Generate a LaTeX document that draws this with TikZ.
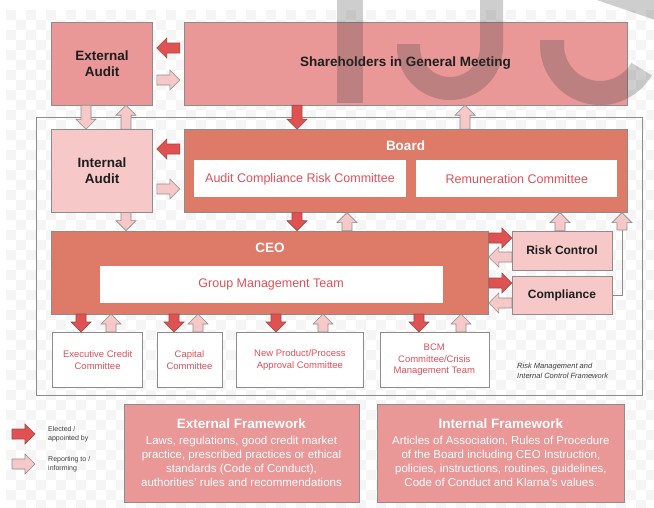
\documentclass[tikz,border=0pt]{standalone}
\usepackage{fontspec}
\setmainfont{Liberation Sans}
\usetikzlibrary{positioning,calc}
\definecolor{ShellPink}{HTML}{E99797}
\definecolor{PalePink}{HTML}{F6C9C8}
\definecolor{Terra}{HTML}{DE7B68}
\definecolor{ArrowRed}{HTML}{E05252}
\definecolor{ArrowEdge}{HTML}{9E4646}
\definecolor{TextRed}{HTML}{E0505A}
\definecolor{LineGray}{HTML}{8C8C8C}
\definecolor{CheckGray}{HTML}{F5F5F5}
\definecolor{InkGray}{HTML}{3C3C3C}
\definecolor{InkBlack}{HTML}{1E1E1E}
\definecolor{WaterGray}{HTML}{3C3C3C}

% block arrow from #2 to #3, drawn with style #1
\newcommand{\fatarrow}[3]{%
  \path (#2) coordinate (fa-s) (#3) coordinate (fa-e);
  \path ($(fa-e)!10pt!(fa-s)$) coordinate (fa-n);
  \draw[#1] ($(fa-s)!5pt!90:(fa-e)$) -- ($(fa-n)!5pt!-90:(fa-s)$)
    -- ($(fa-n)!10pt!-90:(fa-s)$) -- (fa-e) -- ($(fa-n)!10pt!90:(fa-s)$)
    -- ($(fa-n)!5pt!90:(fa-s)$) -- ($(fa-s)!5pt!-90:(fa-e)$) -- cycle;
}

\tikzset{
  pinkbox/.style={draw=LineGray,fill=ShellPink,inner sep=0pt,align=center,
                  font=\fontsize{13.5}{16}\selectfont\bfseries,text=InkBlack},
  palebox/.style={pinkbox,fill=PalePink},
  termbox/.style={draw=LineGray,fill=Terra,inner sep=0pt,minimum height=83pt},
  headtext/.style={font=\fontsize{13.5}{16}\selectfont\bfseries,text=white,inner sep=0pt},
  cmtbox/.style={fill=white,inner sep=0pt,minimum height=37pt,align=center,
                 font=\fontsize{12.5}{15}\selectfont,text=TextRed},
  subbox/.style={draw=LineGray,fill=white,inner sep=0pt,minimum height=55pt,align=center,
                 font=\fontsize{9.5}{11.8}\selectfont,text=TextRed},
  fwbox/.style={draw=LineGray,fill=ShellPink,inner sep=0pt,minimum height=98pt,align=center,
                font=\fontsize{11.5}{14.3}\selectfont,text=white},
  rmframe/.style={draw=LineGray,line width=0.8pt,inner sep=0pt},
  elect/.style={fill=ArrowRed,draw=ArrowEdge,line width=0.6pt},
  inform/.style={fill=PalePink,draw=LineGray,line width=0.6pt},
  link/.style={draw=LineGray,line width=0.8pt},
  note/.style={font=\fontsize{7.5}{10.5}\selectfont\itshape,align=left,text=InkGray,inner sep=0pt},
  keytext/.style={font=\fontsize{7}{9}\selectfont,align=left,text=InkGray,inner sep=0pt},
  wmark/.style={draw=WaterGray,draw opacity=0.25,line width=24pt}
}

\begin{document}
\begin{tikzpicture}[x=1pt,y=-1pt]
  \useasboundingbox (0,0) rectangle (654,507);
  % light checker behind everything
  \foreach \cx in {6,26,...,646}
    \foreach \cy in {10,30,...,490}
      {\fill[CheckGray] (\cx,\cy) rectangle ++(10,10);
       \fill[CheckGray] (\cx+10,\cy+10) rectangle ++(10,10);}

  \node[rmframe,minimum width=606pt,minimum height=278pt] (rmic) at (339,256) {};

  % governing bodies
  \node[pinkbox,minimum width=443pt,minimum height=83pt] (share) at (405.5,63.5) {Shareholders in General Meeting};
  \node[pinkbox,minimum width=101pt,minimum height=83pt,left=31pt of share] (extaudit) {External\\Audit};
  \node[palebox,minimum width=101pt,minimum height=83pt,below=24pt of extaudit] (intaudit) {Internal\\Audit};
  \node[termbox,minimum width=443pt,below=24pt of share] (board) {};
  \node[headtext] (boardtitle) at ($(board.north)+(0,16)$) {Board};
  \node[cmtbox,minimum width=212pt,anchor=north west] (acr) at ($(board.north west)+(10,31)$) {Audit Compliance Risk Committee};
  \node[cmtbox,minimum width=201pt,right=10pt of acr] (remu) {Remuneration Committee};

  \node[termbox,minimum width=437pt,anchor=north west] (ceo) at ($(intaudit.south west)+(0,18)$) {};
  \node[headtext] (ceotitle) at ($(ceo.north)+(0,17)$) {CEO};
  \node[cmtbox,minimum width=343pt,anchor=north west] (gmt) at ($(ceo.north west)+(48,35)$) {Group Management Team};

  \node[palebox,font=\fontsize{12}{14}\selectfont\bfseries,minimum width=100pt,minimum height=39pt,
        anchor=north west] (risk) at ($(ceo.north east)+(23,0)$) {Risk Control};
  \node[palebox,font=\fontsize{12}{14}\selectfont\bfseries,minimum width=100pt,minimum height=38pt,
        below=6pt of risk] (compl) {Compliance};

  % committees under the CEO
  \node[subbox,minimum width=90pt,anchor=north west] (exec) at ($(ceo.south west)+(1,18)$) {Executive Credit\\Committee};
  \node[subbox,minimum width=65pt,right=14pt of exec] (capital) {Capital\\Committee};
  \node[subbox,minimum width=127pt,right=14pt of capital] (newprod) {New Product/Process\\Approval Committee};
  \node[subbox,minimum width=109pt,right=16pt of newprod] (bcm) {BCM\\Committee/Crisis\\Management Team};

  \node[note,anchor=west] (rmiclbl) at (517,371) {Risk Management and\\Internal Control Framework};

  % frameworks
  \node[fwbox,minimum width=235pt] (extfw) at (241.5,453)
    {{\fontsize{13.5}{15}\selectfont\bfseries External Framework}\\[1pt]
     Laws, regulations, good credit market\\practice, prescribed practices or ethical\\
     standards (Code of Conduct),\\authorities' rules and recommendations};
  \node[fwbox,minimum width=247pt,right=18pt of extfw] (intfw)
    {{\fontsize{13.5}{15}\selectfont\bfseries Internal Framework}\\[1pt]
     Articles of Association, Rules of Procedure\\of the Board including CEO Instruction,\\
     policies, instructions, routines, guidelines,\\Code of Conduct and Klarna's values.};

  % legend
  \coordinate (keyA) at (12,434);
  \coordinate (keyB) at (12,464);
  \fatarrow{elect}{keyA}{$(keyA)+(23,0)$}
  \fatarrow{inform}{keyB}{$(keyB)+(23,0)$}
  \node[keytext,anchor=west] (keyAtxt) at (48,434) {Elected /\\appointed by};
  \node[keytext,anchor=west] (keyBtxt) at (48,464) {Reporting to /\\informing};

  % arrows between the boxes
  \fatarrow{elect}{$(share.west |- 0,48)+(-4,0)$}{$(extaudit.east |- 0,48)+(4,0)$}
  \fatarrow{inform}{$(extaudit.east |- 0,80)+(4,0)$}{$(share.west |- 0,80)+(-4,0)$}
  \fatarrow{inform}{extaudit.south -| 86,0}{intaudit.north -| 86,0}
  \fatarrow{inform}{intaudit.north -| 126,0}{extaudit.south -| 126,0}
  \fatarrow{elect}{share.south -| 297,0}{board.north -| 297,0}
  \fatarrow{inform}{board.north -| 465,0}{share.south -| 465,0}
  \fatarrow{elect}{$(board.west |- 0,149)+(-4,0)$}{$(intaudit.east |- 0,149)+(4,0)$}
  \fatarrow{inform}{$(intaudit.east |- 0,189)+(4,0)$}{$(board.west |- 0,189)+(-4,0)$}
  \fatarrow{inform}{intaudit.south -| 126,0}{ceo.north -| 126,0}
  \fatarrow{elect}{board.south -| 297,0}{ceo.north -| 297,0}
  \fatarrow{inform}{ceo.north -| 347,0}{board.south -| 347,0}
  \fatarrow{inform}{risk.north -| 560,0}{board.south -| 560,0}
  \coordinate (cmpup) at (622,230);
  \draw[link] (compl.east) -- (compl.east -| cmpup) -- (cmpup);
  \fatarrow{inform}{cmpup}{board.south -| cmpup}
  \fatarrow{elect}{ceo.east |- 0,238}{risk.west |- 0,238}
  \fatarrow{inform}{risk.west |- 0,257}{ceo.east |- 0,257}
  \fatarrow{elect}{ceo.east |- 0,283}{compl.west |- 0,283}
  \fatarrow{inform}{compl.west |- 0,303}{ceo.east |- 0,303}
  \fatarrow{elect}{ceo.south -| 81,0}{exec.north -| 81,0}
  \fatarrow{inform}{exec.north -| 111,0}{ceo.south -| 111,0}
  \fatarrow{elect}{ceo.south -| 174,0}{capital.north -| 174,0}
  \fatarrow{inform}{capital.north -| 198,0}{ceo.south -| 198,0}
  \fatarrow{elect}{ceo.south -| 276,0}{newprod.north -| 276,0}
  \fatarrow{inform}{newprod.north -| 323,0}{ceo.south -| 323,0}
  \fatarrow{elect}{ceo.south -| 419,0}{bcm.north -| 419,0}
  \fatarrow{inform}{bcm.north -| 461,0}{ceo.south -| 461,0}

  % faint lettering over the top band
  \draw[wmark,line width=26pt] (350,-5) -- (350,103);
  \draw[wmark,line width=23pt] (408.5,44) -- (408.5,47) arc[start angle=180,end angle=360,radius=41.5pt] -- (491.5,-5);
  \draw[wmark] (552,40) -- (552,45) arc[start angle=180,end angle=330,radius=48pt];
  \draw[wmark,line width=22pt] (590,-14) -- (660,10);
\end{tikzpicture}
\end{document}
